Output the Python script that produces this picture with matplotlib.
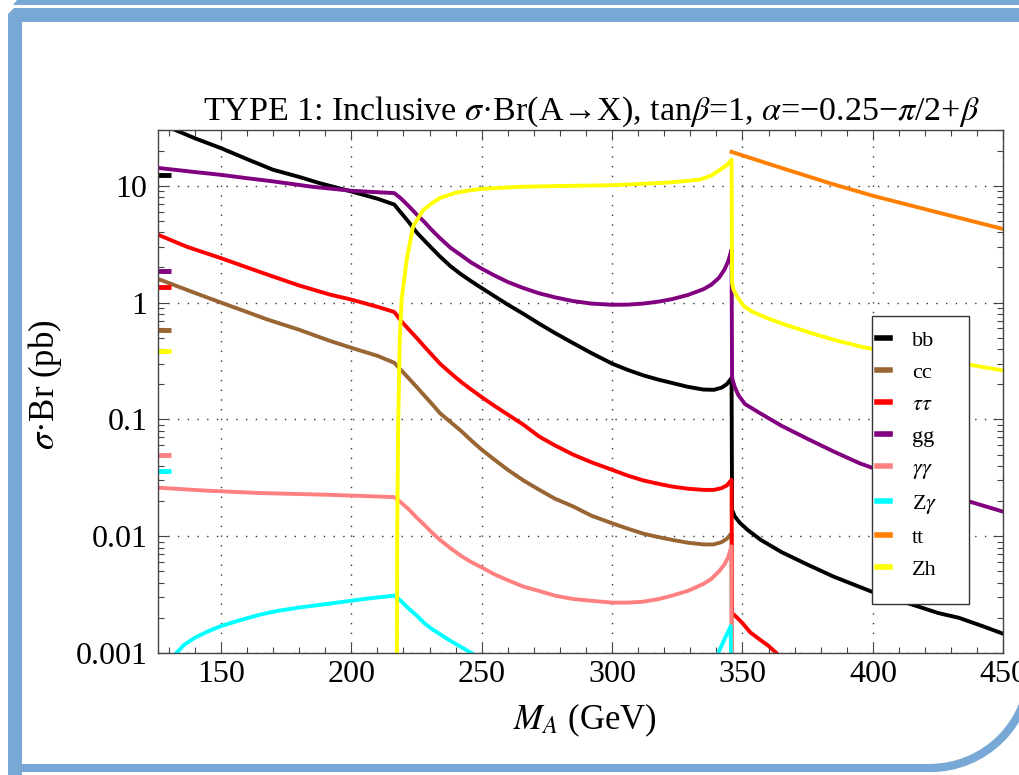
import numpy as np
import matplotlib
matplotlib.use('Agg')
import matplotlib.pyplot as plt
from matplotlib.patches import Polygon, Rectangle, Arc
from matplotlib.ticker import FixedLocator, NullFormatter

plt.rcParams['font.family'] = ['Liberation Serif', 'DejaVu Serif']
plt.rcParams['mathtext.fontset'] = 'stix'

# valori (M_A in GeV, sigma*Br in pb)
bb_x = [131, 140, 150, 160, 170, 180, 188, 200, 210, 216.5, 219, 222, 225, 228, 231, 234, 238, 242,
        246, 250, 255, 260, 266, 272, 278, 285, 292, 300, 306, 312, 318, 323, 329, 335, 339, 342,
        344, 345.8, 346, 347, 349, 352, 357, 365, 375, 385, 396, 405, 415, 425, 433, 442, 450]
bb_y = [31, 25.5, 21, 16.9, 13.7, 11.9, 10.5, 8.93, 7.75, 6.9, 5.9, 4.9, 4.0, 3.4, 2.9, 2.48, 2.05,
        1.75, 1.52, 1.33, 1.13, 0.96, 0.8, 0.66, 0.55, 0.45, 0.37, 0.30, 0.265, 0.238, 0.218, 0.205,
        0.19, 0.18, 0.179, 0.187, 0.2, 0.226, 0.0168, 0.0148, 0.013, 0.0113, 0.0093, 0.0073, 0.0057,
        0.0045, 0.0036, 0.003, 0.0026, 0.0022, 0.002, 0.0017, 0.00146]

cc_x = [126, 140, 150, 160, 167.5, 180, 191.8, 200, 210, 216.5, 219, 222, 225, 228, 231, 234, 238,
        242, 246, 250, 255, 260, 266, 272, 278, 285, 292, 300, 306, 312, 318, 323, 329, 335, 339,
        342, 344, 345.8, 346]
cc_y = [1.59, 1.21, 1.0, 0.83, 0.72, 0.585, 0.47, 0.41, 0.35, 0.305, 0.265, 0.225, 0.19, 0.16, 0.135,
        0.113, 0.095, 0.08, 0.066, 0.055, 0.045, 0.037, 0.03, 0.025, 0.021, 0.018, 0.015, 0.0129,
        0.0116, 0.0105, 0.0098, 0.0093, 0.0088, 0.0085, 0.0085, 0.0089, 0.0095, 0.0106, 1e-5]

tautau_x = [126, 137, 150, 160, 170, 180, 191.8, 200, 210, 216.5, 219, 222, 225, 228, 231, 234, 238,
            242, 246, 250, 255, 260, 266, 272, 278, 285, 292, 300, 306, 312, 318, 323, 329, 335,
            339, 342, 344, 345.8, 346, 348, 350, 353, 356.7, 360, 363, 367]
tautau_y = [3.8, 3.0, 2.4, 2.0, 1.67, 1.40, 1.17, 1.06, 0.92, 0.83, 0.7, 0.59, 0.5, 0.42, 0.355, 0.30,
            0.25, 0.21, 0.18, 0.155, 0.13, 0.11, 0.09, 0.0714, 0.06, 0.05, 0.043, 0.037, 0.033, 0.030,
            0.028, 0.0266, 0.0255, 0.0249, 0.0249, 0.0258, 0.0272, 0.0304, 0.0022, 0.002, 0.0018,
            0.0015, 0.0013, 0.00115, 0.001, 0.0008]

gg_x = [126, 140, 150, 160, 170, 185, 200, 210, 216.5, 219, 222, 225, 228, 231, 234, 238, 242, 246,
        250, 255, 260, 266, 272, 278, 285, 292, 300, 306, 312, 318, 323, 329, 335, 338, 341, 343,
        344.5, 345.8, 346, 347, 348.5, 351, 356.7, 365, 375, 385, 395, 405, 415, 426, 437, 450]
gg_y = [14.2, 13.1, 12.4, 11.6, 10.9, 9.8, 9.06, 8.8, 8.65, 7.8, 6.7, 5.7, 4.9, 4.15, 3.56, 2.95,
        2.55, 2.2, 1.95, 1.7, 1.5, 1.33, 1.2, 1.11, 1.03, 0.98, 0.957, 0.96, 0.98, 1.02, 1.07, 1.16,
        1.3, 1.42, 1.63, 1.9, 2.25, 2.83, 0.226, 0.19, 0.16, 0.135, 0.113, 0.088, 0.068, 0.053,
        0.042, 0.035, 0.029, 0.024, 0.0198, 0.0162]

gamgam_x = [126, 145, 165, 191.8, 216.5, 219, 222, 225, 228, 231, 234, 238, 242, 246, 250, 255, 260,
            266, 272, 278, 285, 292, 300, 306, 312, 318, 323, 329, 335, 338, 341, 343, 344.5,
            345.8, 346]
gamgam_y = [0.026, 0.0245, 0.0234, 0.0226, 0.0216, 0.0195, 0.017, 0.0145, 0.0125, 0.0107, 0.0093,
            0.0079, 0.0068, 0.006, 0.0054, 0.0047, 0.0042, 0.0037, 0.0034, 0.0031, 0.0029, 0.0028,
            0.0027, 0.0027, 0.00275, 0.0029, 0.0031, 0.0034, 0.0039, 0.0043, 0.005, 0.0057, 0.0066,
            0.0082, 1e-5]

zgam_x = [131, 136, 140, 145, 150, 157, 165, 172, 180, 191.8, 205, 216.5, 219, 222, 225, 228, 231,
          234, 238, 242, 246, 250, np.nan, 338, 340.7, 343, 345.5, 346]
zgam_y = [0.0009, 0.00118, 0.00135, 0.00153, 0.0017, 0.0019, 0.00213, 0.0023, 0.00245, 0.00265,
          0.0029, 0.0031, 0.0028, 0.0024, 0.0021, 0.0018, 0.0016, 0.00145, 0.00127, 0.00113, 0.001,
          0.0009, np.nan, 0.0007, 0.001, 0.0013, 0.0017, 1e-5]

tt_x = [345.8, 360, 383.5, 400, 425, 450]
tt_y = [19.5, 15.4, 10.5, 8.2, 5.9, 4.26]

zh_x = [217.3, 217.6, 218.0, 218.6, 219.3, 221.2, 223.7, 227.6, 231, 234, 240, 245, 250, 265, 280,
        300, 320, 327, 333.7, 338, 341.4, 344, 345.8, 346, 346.5, 347.9, 350.5, 354, 359.2, 366,
        375, 385, 395.2, 405, 415, 426, 437.2, 450]
zh_y = [1e-5, 0.01, 0.1, 0.5, 1.06, 2.3, 4.5, 6.2, 7.1, 7.85, 8.7, 9.1, 9.4, 9.8, 9.95, 10.1, 10.6,
        10.9, 11.3, 12.2, 13.7, 15.0, 16.7, 1.47, 1.3, 1.13, 0.93, 0.83, 0.74, 0.65, 0.56, 0.48,
        0.42, 0.38, 0.35, 0.32, 0.293, 0.262]

# valori di riferimento a M_A = 125 (trattini a sinistra)
ref_x = [126, 131]
ref_y = {'bb': 12.3, 'gg': 1.87, 'tautau': 1.37, 'cc': 0.577, 'zh': 0.386,
         'gamgam': 0.050, 'zgam': 0.036}

labels = ['bb', 'cc', r'$\tau\tau$', 'gg', r'$\gamma\gamma$', r'Z$\gamma$', 'tt', 'Zh']
colors = ['black', '#996633', 'red', '#800080', '#ff8080', 'cyan', '#ff8000', 'yellow']
series = [(bb_x, bb_y), (cc_x, cc_y), (tautau_x, tautau_y), (gg_x, gg_y),
          (gamgam_x, gamgam_y), (zgam_x, zgam_y), (tt_x, tt_y), (zh_x, zh_y)]
ref_keys = ['bb', 'cc', 'tautau', 'gg', 'gamgam', 'zgam', None, 'zh']

W, H = 1019, 775
fig = plt.figure(figsize=(W / 100, H / 100), dpi=100)

# cornice decorativa blu
bg = fig.add_axes([0, 0, 1, 1], zorder=-1)
bg.set_xlim(0, W)
bg.set_ylim(H, 0)
bg.axis('off')
blue = '#78a9d6'
bg.add_patch(Polygon([(13, 5), (17, 0), (W, 0), (W, 5)], color=blue, lw=0))
bg.add_patch(Polygon([(8, 14), (14, 8), (W, 8), (W, 22), (22, 22), (22, 775), (8, 775)],
                     color=blue, lw=0))
bg.add_patch(Rectangle((8, 764), 925, 8, color=blue, lw=0))
bg.add_patch(Arc((930, 668), 200, 200, theta1=0, theta2=90, color=blue, lw=6))

ax = fig.add_axes([158.3 / W, 1 - 653 / H, 845 / W, 523 / H])

for (x, y), lab, c, key in zip(series, labels, colors, ref_keys):
    ax.plot(x, y, color=c, lw=2.8, label=lab, solid_joinstyle='round')
    if key is not None:
        ax.plot(ref_x, [ref_y[key]] * 2, color=c, lw=3.5, solid_capstyle='butt')

ax.set_yscale('log')
ax.set_xlim(126, 450)
ax.set_ylim(0.001, 30)

ax.xaxis.set_major_locator(FixedLocator([150, 200, 250, 300, 350, 400, 450]))
ax.xaxis.set_minor_locator(FixedLocator(np.arange(130, 451, 10)))
ax.yaxis.set_major_locator(FixedLocator([0.001, 0.01, 0.1, 1, 10]))
ax.set_yticklabels(['0.001', '0.01', '0.1', '1', '10'])
minor_y = [m * 10.0 ** e for e in range(-3, 2) for m in range(2, 10)]
ax.yaxis.set_minor_locator(FixedLocator(minor_y))
ax.yaxis.set_minor_formatter(NullFormatter())

ax.tick_params(which='both', direction='in', top=True, right=True, color='#444', width=0.8)
ax.tick_params(which='major', length=7, labelsize=23, pad=5)
ax.tick_params(which='minor', length=4)
ax.tick_params(axis='y', which='major', pad=8)
for s in ax.spines.values():
    s.set_color('#444')
    s.set_linewidth(1.0)

ax.grid(True, which='major', color='#333', linestyle=(0, (1, 6)), lw=1.0)

fig.text(591 / W, 1 - 112 / H,
         r'TYPE 1: Inclusive $\sigma$·Br(A→X), tan$\beta$=1, $\alpha$=−0.25−$\pi$/2+$\beta$',
         ha='center', va='center', fontsize=24.5)
fig.text(585 / W, 1 - 720 / H, r'$M_A$ (GeV)', ha='center', va='center', fontsize=25)
fig.text(45 / W, 1 - 385 / H, r'$\sigma$·Br (pb)', ha='center', va='center', fontsize=25,
         rotation=90)

# riquadro della legenda
ax.add_patch(Rectangle((871.7 / W, 1 - 604.3 / H), 97.6 / W, 288.6 / H, transform=fig.transFigure,
                       facecolor='white', edgecolor='#333', lw=1.0, zorder=4.5, clip_on=False))
leg = ax.legend(loc='upper left', bbox_to_anchor=(876.7 / W, 1 - 330 / H),
                bbox_transform=fig.transFigure, fontsize=16, handlelength=0.6,
                handletextpad=1.0, labelspacing=0.52, borderpad=0, frameon=False,
                borderaxespad=0)
for h in leg.get_lines():
    h.set_linewidth(4)

fig.savefig('out.png', dpi=100)
